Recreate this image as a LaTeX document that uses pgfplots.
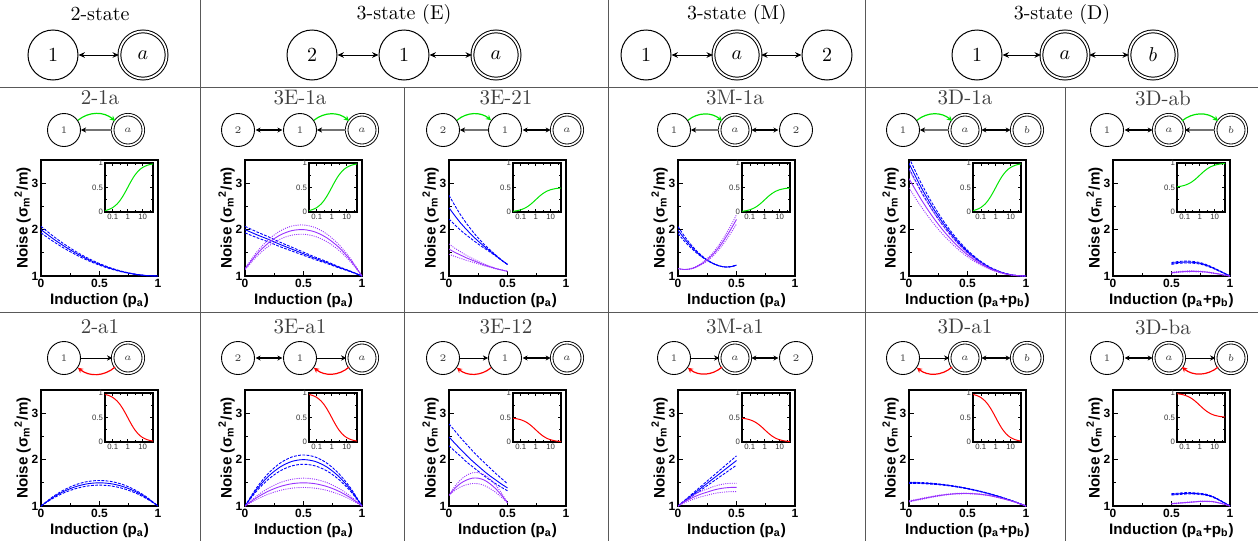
\documentclass[border=0pt]{standalone}
\usepackage{fontspec}
\newfontfamily\hv{Liberation Sans}
\usepackage{pgfplots}
\pgfplotsset{compat=1.18}
\usepackage{pgfplotstable}
\usetikzlibrary{arrows.meta}

\definecolor{cblue}{RGB}{0,0,255}
\definecolor{cvio}{RGB}{153,51,255}
\definecolor{cgreen}{RGB}{0,230,0}
\definecolor{cred}{RGB}{255,0,0}

% main noise curves: p, blue mean/upper/lower, violet mean/upper/lower
\pgfplotstableread{
p bm bu bl
0 2 2.07 1.93
0.1 1.81 1.867 1.753
0.2 1.64 1.685 1.595
0.3 1.49 1.524 1.456
0.4 1.36 1.385 1.335
0.5 1.25 1.268 1.233
0.6 1.16 1.171 1.149
0.7 1.09 1.096 1.084
0.8 1.04 1.043 1.037
0.9 1.01 1.011 1.009
1 1 1 1
}\Ta
\pgfplotstableread{
p bm bu bl vm vu vl
0 2 2.07 1.93 1.15 1.165 1.135
0.1 1.89 1.952 1.828 1.468 1.515 1.421
0.2 1.79 1.845 1.735 1.712 1.783 1.641
0.3 1.68 1.728 1.632 1.882 1.970 1.794
0.4 1.58 1.621 1.539 1.978 2.076 1.880
0.5 1.48 1.514 1.446 2.0 2.1 1.9
0.6 1.38 1.407 1.353 1.948 2.043 1.853
0.7 1.29 1.310 1.270 1.822 1.904 1.740
0.8 1.19 1.203 1.177 1.622 1.684 1.560
0.9 1.10 1.107 1.093 1.348 1.383 1.313
1 1 1 1 1 1 1
}\Tb
\pgfplotstableread{
p bm bu bl vm vu vl
0 2.47 2.74 2.227 1.58 1.69 1.47
0.05 2.30 2.519 2.103 1.51 1.599 1.421
0.1 2.14 2.313 1.984 1.45 1.52 1.38
0.15 2.0 2.132 1.881 1.39 1.444 1.336
0.2 1.87 1.967 1.783 1.34 1.38 1.30
0.25 1.75 1.818 1.689 1.29 1.318 1.262
0.3 1.64 1.683 1.601 1.24 1.258 1.222
0.35 1.54 1.564 1.518 1.20 1.21 1.19
0.4 1.44 1.451 1.430 1.16 1.164 1.156
0.45 1.34 1.343 1.337 1.13 1.131 1.129
0.5 1.25 1.25 1.25 1.10 1.10 1.10
}\Tc
\pgfplotstableread{
p bm bu bl vm vu vl
0 1.99 2.065 1.915 1.16 1.16 1.16
0.05 1.82 1.876 1.764 1.14 1.141 1.139
0.1 1.67 1.708 1.632 1.15 1.154 1.146
0.15 1.54 1.565 1.515 1.19 1.199 1.181
0.2 1.43 1.444 1.416 1.26 1.276 1.244
0.25 1.34 1.346 1.334 1.35 1.375 1.325
0.3 1.27 1.272 1.268 1.47 1.506 1.434
0.35 1.22 1.22 1.22 1.62 1.669 1.571
0.4 1.195 1.195 1.195 1.80 1.864 1.736
0.45 1.20 1.20 1.20 2.00 2.081 1.919
0.5 1.235 1.235 1.235 2.22 2.32 2.12
}\Td
\pgfplotstableread{
p bm bu bl vm vu vl
0 3.43 3.55 3.32 3.10 3.30 2.90
0.1 2.927 3.022 2.840 2.666 2.824 2.507
0.2 2.487 2.561 2.420 2.285 2.408 2.163
0.3 2.109 2.164 2.059 1.958 2.049 1.867
0.4 1.790 1.829 1.754 1.683 1.748 1.618
0.5 1.529 1.555 1.505 1.457 1.500 1.413
0.6 1.324 1.340 1.309 1.280 1.306 1.253
0.7 1.172 1.181 1.164 1.149 1.163 1.135
0.8 1.070 1.074 1.067 1.061 1.067 1.055
0.9 1.015 1.016 1.015 1.013 1.014 1.012
1 1 1 1 1 1 1
}\Te
\pgfplotstableread{
p bm bu bl vm vu vl
0.5 1.27 1.29 1.25 1.07 1.08 1.06
0.55 1.29 1.31 1.27 1.085 1.095 1.075
0.6 1.30 1.32 1.28 1.095 1.105 1.085
0.65 1.30 1.32 1.28 1.10 1.11 1.09
0.7 1.29 1.308 1.272 1.10 1.109 1.091
0.75 1.27 1.286 1.254 1.095 1.103 1.087
0.8 1.23 1.244 1.216 1.085 1.092 1.078
0.85 1.18 1.19 1.17 1.065 1.07 1.06
0.9 1.12 1.127 1.113 1.045 1.048 1.042
0.95 1.06 1.063 1.057 1.02 1.022 1.018
1 1 1 1 1 1 1
}\Tf
\pgfplotstableread{
p bm bu bl
0 1 1 1
0.1 1.18 1.198 1.162
0.2 1.32 1.352 1.288
0.3 1.42 1.462 1.378
0.4 1.48 1.528 1.432
0.5 1.5 1.55 1.45
0.6 1.48 1.528 1.432
0.7 1.42 1.462 1.378
0.8 1.32 1.352 1.288
0.9 1.18 1.198 1.162
1 1 1 1
}\Tg
\pgfplotstableread{
p bm bu bl vm vu vl
0 1 1 1 1 1 1
0.1 1.36 1.396 1.324 1.18 1.216 1.144
0.2 1.64 1.704 1.576 1.32 1.384 1.256
0.3 1.84 1.924 1.756 1.42 1.504 1.336
0.4 1.96 2.056 1.864 1.48 1.576 1.384
0.5 2 2.1 1.9 1.5 1.6 1.4
0.6 1.96 2.056 1.864 1.48 1.576 1.384
0.7 1.84 1.924 1.756 1.42 1.504 1.336
0.8 1.64 1.704 1.576 1.32 1.384 1.256
0.9 1.36 1.396 1.324 1.18 1.216 1.144
1 1 1 1 1 1 1
}\Th
\pgfplotstableread{
p bm bu bl vm vu vl
0 2.49 2.77 2.30 1.23 1.23 1.23
0.05 2.35 2.62 2.18 1.38 1.423 1.337
0.1 2.22 2.47 2.07 1.49 1.567 1.413
0.15 2.09 2.33 1.95 1.56 1.661 1.459
0.2 1.97 2.19 1.85 1.60 1.715 1.485
0.25 1.86 2.06 1.75 1.60 1.72 1.48
0.3 1.75 1.94 1.65 1.56 1.675 1.445
0.35 1.65 1.82 1.56 1.48 1.581 1.379
0.4 1.56 1.70 1.48 1.37 1.447 1.293
0.45 1.47 1.59 1.40 1.23 1.273 1.187
0.5 1.39 1.48 1.33 1.07 1.07 1.07
}\Ti
\pgfplotstableread{
p bm bu bl vm vu vl
0 1 1 1 1 1 1
0.05 1.098 1.108 1.088 1.08 1.098 1.062
0.1 1.196 1.216 1.176 1.15 1.184 1.116
0.15 1.294 1.324 1.264 1.21 1.257 1.163
0.2 1.392 1.432 1.352 1.26 1.319 1.202
0.25 1.49 1.54 1.44 1.30 1.368 1.233
0.3 1.588 1.648 1.528 1.34 1.417 1.264
0.35 1.686 1.756 1.616 1.37 1.453 1.287
0.4 1.784 1.864 1.704 1.39 1.478 1.302
0.45 1.882 1.972 1.792 1.40 1.49 1.31
0.5 1.98 2.08 1.88 1.40 1.49 1.31
}\Tj
\pgfplotstableread{
p bm bu bl vm vu vl
0 1.5 1.512 1.488 1.10 1.112 1.088
0.1 1.495 1.506 1.484 1.15 1.161 1.139
0.2 1.48 1.49 1.47 1.20 1.21 1.19
0.3 1.455 1.463 1.447 1.24 1.248 1.232
0.4 1.42 1.427 1.413 1.265 1.272 1.258
0.5 1.375 1.381 1.369 1.27 1.276 1.264
0.6 1.32 1.325 1.315 1.255 1.26 1.25
0.7 1.255 1.259 1.251 1.22 1.224 1.216
0.8 1.18 1.182 1.178 1.16 1.162 1.158
0.9 1.095 1.096 1.094 1.09 1.091 1.089
1 1 1 1 1 1 1
}\Tk
\pgfplotstableread{
p bm bu bl vm vu vl
0.5 1.25 1.265 1.235 1.05 1.056 1.044
0.55 1.26 1.275 1.245 1.06 1.066 1.054
0.6 1.27 1.285 1.255 1.07 1.076 1.064
0.65 1.275 1.289 1.261 1.08 1.086 1.074
0.7 1.27 1.283 1.257 1.09 1.095 1.085
0.75 1.26 1.272 1.248 1.10 1.105 1.095
0.8 1.24 1.251 1.229 1.10 1.104 1.096
0.85 1.20 1.209 1.191 1.095 1.098 1.092
0.9 1.14 1.147 1.133 1.07 1.072 1.068
0.95 1.07 1.074 1.066 1.04 1.041 1.039
1 1 1 1 1 1 1
}\Tl
% inset response curves (log x)
\pgfplotstableread{
x g1 gh gu r1 rh ru
0.03 .0291 .0146 .5146 .9709 .4854 .9854
0.05 .0476 .0238 .5238 .9524 .4762 .9762
0.1 .0909 .0455 .5455 .9091 .4545 .9545
0.2 .1667 .0833 .5833 .8333 .4167 .9167
0.3 .2308 .1154 .6154 .7692 .3846 .8846
0.5 .3333 .1667 .6667 .6667 .3333 .8333
0.7 .4118 .2059 .7059 .5882 .2941 .7941
1 .5 .25 .75 .5 .25 .75
1.5 .6 .3 .8 .4 .2 .7
2 .6667 .3333 .8333 .3333 .1667 .6667
3 .75 .375 .875 .25 .125 .625
5 .8333 .4167 .9167 .1667 .0833 .5833
7 .875 .4375 .9375 .125 .0625 .5625
10 .9091 .4545 .9545 .0909 .0455 .5455
20 .9524 .4762 .9762 .0476 .0238 .5238
30 .9677 .4839 .9839 .0323 .0161 .5161
50 .9804 .4902 .9902 .0196 .0098 .5098
}\Tin

\pgfplotsset{
  mainax/.style={scale only axis, width=58.5pt, height=58pt, anchor=south west,
    xmin=0, xmax=1, ymin=1, ymax=3.5,
    xtick={0,0.5,1}, xticklabels={0,0.5,1}, ytick={1,2,3}, yticklabels={1,2,3},
    minor x tick num=1, minor y tick num=1, tick pos=left,
    axis line style={line width=1pt}, major tick length=2.5pt, minor tick length=1.3pt,
    tick style={black, line width=0.5pt},
    tick label style={font=\hv\bfseries\fontsize{6}{6}\selectfont, inner sep=1.2pt},
    label style={font=\hv\bfseries\fontsize{7.6}{8}\selectfont},
    xlabel={Induction (p\textsubscript{a})},
    ylabel={Noise (σ\textsubscript{m}\textsuperscript{2}/m)},
    xlabel style={inner sep=0pt, yshift=-1.5pt}, ylabel style={inner sep=0pt, yshift=-1pt}},
  inax/.style={scale only axis, width=24pt, height=24.5pt, anchor=north east,
    xmin=0.03, xmax=50, ymin=0, ymax=1,
    xtick={0.1,1,10}, xticklabels={0.1,1,10}, minor xtick={0.316,3.16,31.6},
    ytick={0,0.5,1}, yticklabels={0,0.5,1},
    minor y tick num=1, tick pos=both, ticklabel pos=left,
    axis line style={line width=0.6pt}, major tick length=1.6pt, minor tick length=0.9pt,
    tick style={black, line width=0.3pt},
    tick label style={font=\hv\fontsize{3.9}{4}\selectfont, text=black!80, inner sep=0.8pt}},
}
\newcommand\plotB[1]{%
  \addplot[cblue, line width=0.45pt, smooth] table[x=p,y=bm]{#1};
  \addplot[cblue, line width=0.45pt, smooth, dash pattern=on 1.4pt off 0.7pt] table[x=p,y=bu]{#1};
  \addplot[cblue, line width=0.45pt, smooth, dash pattern=on 1.4pt off 0.7pt] table[x=p,y=bl]{#1};}
\newcommand\plotV[1]{%
  \addplot[cvio, line width=0.45pt, smooth] table[x=p,y=vm]{#1};
  \addplot[cvio, line width=0.45pt, smooth, dash pattern=on 0.5pt off 0.6pt] table[x=p,y=vu]{#1};
  \addplot[cvio, line width=0.45pt, smooth, dash pattern=on 0.5pt off 0.6pt] table[x=p,y=vl]{#1};}
\newcommand\inset[3]{%
  \begin{semilogxaxis}[inax, at={(#1)}]
    \addplot[#2, line width=0.5pt, smooth] table[x=x,y=#3]{\Tin};
  \end{semilogxaxis}}

\begin{document}
\begin{tikzpicture}
\useasboundingbox (0,0) rectangle (629pt,-270.5pt);
\begin{scope}[x=0.5pt, y=-0.5pt,
  hst/.style={circle, draw, line width=0.5pt, minimum size=25pt, inner sep=0pt, font=\fontsize{10}{12}\selectfont},
  hfs/.style={hst, double, double distance=0.9pt, minimum size=23.6pt},
  harr/.style={line width=0.5pt, {Stealth[length=3.2pt,width=2.8pt]}-{Stealth[length=3.2pt,width=2.8pt]}},
  st/.style={circle, draw, line width=0.45pt, minimum size=16.5pt, inner sep=0pt, font=\fontsize{5}{6}\selectfont, text=black!75},
  fs/.style={st, double, double distance=0.8pt, minimum size=15.3pt},
  darr/.style={line width=0.7pt, {Stealth[length=2.5pt,width=2.5pt]}-{Stealth[length=2.5pt,width=2.5pt]}, shorten <=0.3pt, shorten >=0.3pt},
  rev/.style={draw=black!55, line width=0.8pt, -{Stealth[length=2.6pt,width=2.6pt,color=black]}},
  fwd/.style={line width=0.5pt, -{Stealth[length=2.6pt,width=2.6pt]}},
  garr/.style={draw=cgreen, line width=0.6pt, -{Stealth[length=2.6pt,width=2.6pt]}},
  rarr/.style={draw=cred, line width=0.6pt, -{Stealth[length=2.6pt,width=2.6pt]}},
  ttl/.style={font=\fontsize{10.5}{12}\selectfont, text=black!75}]
% grid lines
\draw[black!65, line width=0.5pt] (0,87) -- (1258,87) (0,312) -- (1258,312);
\draw[black!65, line width=0.5pt] (200,0) -- (200,541) (608,0) -- (608,541) (865,0) -- (865,541)
  (404,87) -- (404,541) (1065,87) -- (1065,541);
% header
\node[font=\fontsize{10}{12}\selectfont] at (100,14) {2-state};
\node[font=\fontsize{10}{12}\selectfont] at (404,14) {3-state (E)};
\node[font=\fontsize{10}{12}\selectfont] at (737,14) {3-state (M)};
\node[font=\fontsize{10}{12}\selectfont] at (1062,14) {3-state (D)};
\node[hst] (A) at (53,55) {1}; \node[hfs] (B) at (143,55) {$a$}; \draw[harr] (A) -- (B);
\node[hst] (A) at (312,55) {2}; \node[hst] (B) at (404,55) {1}; \node[hfs] (C) at (496,55) {$a$};
\draw[harr] (A) -- (B); \draw[harr] (B) -- (C);
\node[hst] (A) at (646,55) {1}; \node[hfs] (B) at (737,55) {$a$}; \node[hst] (C) at (827,55) {2};
\draw[harr] (A) -- (B); \draw[harr] (B) -- (C);
\node[hst] (A) at (977,55) {1}; \node[hfs] (B) at (1065,55) {$a$}; \node[hfs] (C) at (1153,55) {$b$};
\draw[harr] (A) -- (B); \draw[harr] (B) -- (C);
% panel titles
\node[ttl] at (100,98) {2-1a}; \node[ttl] at (300,98) {3E-1a}; \node[ttl] at (506,98) {3E-21};
\node[ttl] at (735,98) {3M-1a}; \node[ttl] at (965,98) {3D-1a}; \node[ttl] at (1163,98) {3D-ab};
\node[ttl] at (100,327) {2-a1}; \node[ttl] at (300,327) {3E-a1}; \node[ttl] at (506,327) {3E-12};
\node[ttl] at (735,327) {3M-a1}; \node[ttl] at (965,327) {3D-a1}; \node[ttl] at (1163,327) {3D-ba};
% row 1 diagrams
\node[st] (A) at (64,130) {1}; \node[fs] (B) at (128,130) {$a$};
\draw[rev] (B) -- (A); \draw[garr] (A.35) to[bend left=40] (B.145);
\node[st] (A) at (238,130) {2}; \node[st] (B) at (300,130) {1}; \node[fs] (C) at (362,130) {$a$};
\draw[darr] (A) -- (B); \draw[rev] (C) -- (B); \draw[garr] (B.35) to[bend left=40] (C.145);
\node[st] (A) at (443,130) {2}; \node[st] (B) at (505,130) {1}; \node[fs] (C) at (567,130) {$a$};
\draw[darr] (B) -- (C); \draw[rev] (B) -- (A); \draw[garr] (A.35) to[bend left=40] (B.145);
\node[st] (A) at (674,130) {1}; \node[fs] (B) at (735,130) {$a$}; \node[st] (C) at (796,130) {2};
\draw[darr] (B) -- (C); \draw[rev] (B) -- (A); \draw[garr] (A.35) to[bend left=40] (B.145);
\node[st] (A) at (903,130) {1}; \node[fs] (B) at (965,130) {$a$}; \node[fs] (C) at (1027,130) {$b$};
\draw[darr] (B) -- (C); \draw[rev] (B) -- (A); \draw[garr] (A.35) to[bend left=40] (B.145);
\node[st] (A) at (1107,130) {1}; \node[fs] (B) at (1169,130) {$a$}; \node[fs] (C) at (1231,130) {$b$};
\draw[darr] (A) -- (B); \draw[rev] (C) -- (B); \draw[garr] (B.35) to[bend left=40] (C.145);
% row 2 diagrams
\node[st] (A) at (64,358) {1}; \node[fs] (B) at (128,358) {$a$};
\draw[fwd] (A) -- (B); \draw[rarr] (B.215) to[bend left=40] (A.-35);
\node[st] (A) at (238,358) {2}; \node[st] (B) at (300,358) {1}; \node[fs] (C) at (362,358) {$a$};
\draw[darr] (A) -- (B); \draw[fwd] (B) -- (C); \draw[rarr] (C.215) to[bend left=40] (B.-35);
\node[st] (A) at (443,358) {2}; \node[st] (B) at (505,358) {1}; \node[fs] (C) at (567,358) {$a$};
\draw[darr] (B) -- (C); \draw[fwd] (A) -- (B); \draw[rarr] (B.215) to[bend left=40] (A.-35);
\node[st] (A) at (674,358) {1}; \node[fs] (B) at (735,358) {$a$}; \node[st] (C) at (796,358) {2};
\draw[darr] (B) -- (C); \draw[fwd] (A) -- (B); \draw[rarr] (B.215) to[bend left=40] (A.-35);
\node[st] (A) at (903,358) {1}; \node[fs] (B) at (965,358) {$a$}; \node[fs] (C) at (1027,358) {$b$};
\draw[darr] (B) -- (C); \draw[fwd] (A) -- (B); \draw[rarr] (B.215) to[bend left=40] (A.-35);
\node[st] (A) at (1107,358) {1}; \node[fs] (B) at (1169,358) {$a$}; \node[fs] (C) at (1231,358) {$b$};
\draw[darr] (A) -- (B); \draw[fwd] (B) -- (C); \draw[rarr] (C.215) to[bend left=40] (B.-35);
\end{scope}

% ---- row 1 plots
\begin{axis}[mainax, at={(20.5pt,-138pt)}] \plotB{\Ta} \end{axis}
\inset{76.5pt,-81.5pt}{cgreen}{g1}
\begin{axis}[mainax, at={(122.5pt,-138pt)}] \plotB{\Tb} \plotV{\Tb} \end{axis}
\inset{178.5pt,-81.5pt}{cgreen}{g1}
\begin{axis}[mainax, at={(224.5pt,-138pt)}] \plotB{\Tc} \plotV{\Tc} \end{axis}
\inset{280.5pt,-81.5pt}{cgreen}{gh}
\begin{axis}[mainax, at={(339pt,-138pt)}] \plotB{\Td} \plotV{\Td} \end{axis}
\inset{395pt,-81.5pt}{cgreen}{gh}
\begin{axis}[mainax, at={(454.5pt,-138pt)}, xlabel={Induction (p\textsubscript{a}+p\textsubscript{b})}] \plotB{\Te} \plotV{\Te} \end{axis}
\inset{510.5pt,-81.5pt}{cgreen}{g1}
\begin{axis}[mainax, at={(556.5pt,-138pt)}, xlabel={Induction (p\textsubscript{a}+p\textsubscript{b})}] \plotB{\Tf} \plotV{\Tf} \end{axis}
\inset{612.5pt,-81.5pt}{cgreen}{gu}

% ---- row 2 plots
\begin{axis}[mainax, at={(20.5pt,-253pt)}] \plotB{\Tg} \end{axis}
\inset{76.5pt,-196.5pt}{cred}{r1}
\begin{axis}[mainax, at={(122.5pt,-253pt)}] \plotB{\Th} \plotV{\Th} \end{axis}
\inset{178.5pt,-196.5pt}{cred}{r1}
\begin{axis}[mainax, at={(224.5pt,-253pt)}] \plotB{\Ti} \plotV{\Ti} \end{axis}
\inset{280.5pt,-196.5pt}{cred}{rh}
\begin{axis}[mainax, at={(339pt,-253pt)}] \plotB{\Tj} \plotV{\Tj} \end{axis}
\inset{395pt,-196.5pt}{cred}{rh}
\begin{axis}[mainax, at={(454.5pt,-253pt)}, xlabel={Induction (p\textsubscript{a}+p\textsubscript{b})}] \plotB{\Tk} \plotV{\Tk} \end{axis}
\inset{510.5pt,-196.5pt}{cred}{r1}
\begin{axis}[mainax, at={(556.5pt,-253pt)}, xlabel={Induction (p\textsubscript{a}+p\textsubscript{b})}] \plotB{\Tl} \plotV{\Tl} \end{axis}
\inset{612.5pt,-196.5pt}{cred}{ru}
\end{tikzpicture}
\end{document}
